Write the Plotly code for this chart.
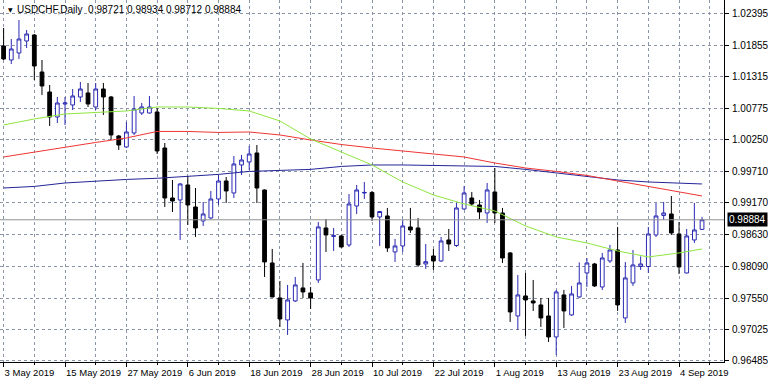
import plotly.graph_objects as go

# ---------------- data ----------------
date_labels = ["3 May 2019", "15 May 2019", "27 May 2019", "6 Jun 2019", "18 Jun 2019",
               "28 Jun 2019", "10 Jul 2019", "22 Jul 2019", "1 Aug 2019", "13 Aug 2019",
               "23 Aug 2019", "4 Sep 2019"]
label_bars = [0, 8, 16, 24, 32, 40, 48, 56, 64, 72, 80, 88]
grid_bars = [4, 12, 20, 28, 36, 44, 52, 60, 68, 76, 84, 92]

price_ticks = [1.02395, 1.01855, 1.01315, 1.00775, 1.00250, 0.99710,
               0.99170, 0.98630, 0.98090, 0.97550, 0.97025, 0.96485]

bars = list(range(92))

open_ = [1.01839, 1.01601, 1.01720, 1.01924, 1.02026, 1.01397, 1.01057, 1.00632, 1.00853, 1.00836,
         1.00972, 1.01040, 1.00802, 1.01108, 1.00972, 1.00309, 1.00122, 1.00360, 1.00700, 1.00700,
         1.00717, 1.00105, 0.99255, 0.99221, 0.99476, 0.99102, 0.98864, 0.98915, 0.99238, 0.99544,
         0.99340, 0.99816, 0.99867, 1.00020, 0.99391, 0.98150, 0.97555, 0.97181, 0.97504, 0.97725,
         0.97640, 0.97861, 0.98745, 0.98601, 0.98609, 0.98456, 0.99119, 0.99340, 0.99349, 0.98932,
         0.98949, 0.98337, 0.98439, 0.98762, 0.98745, 0.98133, 0.98269, 0.98184, 0.98541, 0.98447,
         0.99068, 0.99255, 0.99136, 0.99000, 0.99357, 0.99000, 0.98320, 0.97249, 0.97589, 0.97504,
         0.97436, 0.97249, 0.96892, 0.97606, 0.97266, 0.97572, 0.97980, 0.98133, 0.97742, 0.98184,
         0.98371, 0.97215, 0.97810, 0.98090, 0.98090, 0.98626, 0.98958, 0.98983, 0.98643, 0.97980,
         0.98541, 0.98721]
high = [1.02145, 1.01958, 1.02281, 1.02111, 1.02043, 1.01601, 1.01176, 1.00972, 1.00972, 1.01108,
        1.01227, 1.01210, 1.01210, 1.01210, 1.00989, 1.00326, 1.00547, 1.00989, 1.00870, 1.00989,
        1.00785, 1.00190, 0.99561, 0.99510, 0.99629, 0.99425, 0.99187, 0.99374, 0.99646, 0.99612,
        0.99969, 0.99986, 1.00139, 1.00156, 0.99400, 0.98388, 0.97844, 0.97776, 0.97912, 0.98150,
        0.97742, 0.98847, 0.98898, 0.98745, 0.98626, 0.99323, 0.99476, 0.99527, 0.99374, 0.99034,
        0.99085, 0.98558, 0.98881, 0.99085, 0.98915, 0.98473, 0.98388, 0.98592, 0.98728, 0.99170,
        0.99459, 0.99357, 0.99221, 0.99510, 0.99765, 0.99085, 0.98337, 0.97946, 0.97980, 0.97861,
        0.97555, 0.97555, 0.97691, 0.97691, 0.97759, 0.98160, 0.98235, 0.98150, 0.98320, 0.98456,
        0.98762, 0.98167, 0.98371, 0.98261, 0.98762, 0.99170, 0.99187, 0.99289, 0.98847, 0.98728,
        0.99170, 0.98934]
low = [1.01601, 1.01533, 1.01618, 1.01805, 1.01261, 1.01006, 1.00479, 1.00530, 1.00496, 1.00751,
       1.00887, 1.00802, 1.00751, 1.00666, 1.00241, 1.00071, 1.00105, 1.00326, 1.00666, 1.00692,
       1.00003, 0.99102, 0.99017, 0.98541, 0.98796, 0.98592, 0.98779, 0.98898, 0.99136, 0.99170,
       0.99255, 0.99646, 0.99731, 0.99170, 0.97912, 0.97565, 0.97062, 0.96926, 0.97487, 0.97555,
       0.97368, 0.97810, 0.98337, 0.98354, 0.98413, 0.98422, 0.98983, 0.99238, 0.98864, 0.98439,
       0.98337, 0.98167, 0.98337, 0.98660, 0.98082, 0.98048, 0.98031, 0.98167, 0.98354, 0.98422,
       0.99051, 0.99119, 0.98898, 0.98830, 0.98830, 0.98150, 0.97147, 0.97011, 0.96909, 0.97334,
       0.97062, 0.96807, 0.96586, 0.97045, 0.97249, 0.97555, 0.97742, 0.97742, 0.97691, 0.98150,
       0.97334, 0.97130, 0.97759, 0.98031, 0.97980, 0.98592, 0.98881, 0.98626, 0.97963, 0.97972,
       0.98490, 0.98712]
close = [1.01618, 1.01788, 1.01958, 1.02043, 1.01499, 1.01159, 1.00632, 1.00870, 1.00870, 1.00989,
         1.01108, 1.00853, 1.01108, 1.00972, 1.00326, 1.00156, 1.00377, 1.00768, 1.00802, 1.00802,
         1.00054, 0.99255, 0.99204, 0.99493, 0.99136, 0.98745, 0.98983, 0.99238, 0.99544, 0.99374,
         0.99833, 0.99901, 1.00003, 0.99425, 0.98167, 0.97572, 0.97198, 0.97521, 0.97776, 0.97657,
         0.97555, 0.98762, 0.98626, 0.98614, 0.98422, 0.99153, 0.99391, 0.99349, 0.98932, 0.99025,
         0.98405, 0.98439, 0.98779, 0.98711, 0.98116, 0.98172, 0.98184, 0.98524, 0.98473, 0.99085,
         0.99340, 0.99153, 0.99017, 0.99391, 0.99000, 0.98235, 0.97317, 0.97606, 0.97521, 0.97470,
         0.97215, 0.96892, 0.97657, 0.97334, 0.97623, 0.97810, 0.98150, 0.97759, 0.98235, 0.98371,
         0.97436, 0.97895, 0.98116, 0.98133, 0.98643, 0.98949, 0.99000, 0.98660, 0.98082, 0.98609,
         0.98711, 0.98884]

ma_bars = [0, 4, 8, 12, 16, 20, 24, 28, 32, 36, 40, 44, 48, 52, 56, 60, 64, 68, 72, 76, 80, 84, 88, 91]
ma_green = [1.00496, 1.00598, 1.00683, 1.00709, 1.00734, 1.00802, 1.00802, 1.00777, 1.00734, 1.00564,
            1.00258, 1.00037, 0.99816, 0.99527, 0.99306, 0.99153, 0.99034, 0.98779, 0.98592, 0.98490,
            0.98354, 0.98252, 0.98320, 0.98388]
ma_red = [0.99952, 1.00037, 1.00114, 1.00199, 1.00275, 1.00386, 1.00386, 1.00369, 1.00377, 1.00326,
          1.00241, 1.00164, 1.00105, 1.00054, 1.00011, 0.99952, 0.99850, 0.99765, 0.99706, 0.99638,
          0.99544, 0.99451, 0.99366, 0.99289]
ma_blue = [0.99425, 0.99451, 0.99510, 0.99544, 0.99570, 0.99590, 0.99617, 0.99656, 0.99706, 0.99724,
           0.99741, 0.99791, 0.99816, 0.99816, 0.99804, 0.99796, 0.99791, 0.99741, 0.99680, 0.99617,
           0.99561, 0.99527, 0.99510, 0.99493]

symbol_title = "USDCHF,Daily  0.98721 0.98934 0.98712 0.98884"
last_price = 0.98884

# ---------------- styles ----------------
UP = "#2a2ab4"
GRID = "#8a96a8"
FONT = "Liberation Sans"

fig = go.Figure()
fig.add_trace(go.Candlestick(
    x=bars, open=open_, high=high, low=low, close=close,
    increasing=dict(line=dict(color=UP, width=1), fillcolor="white"),
    decreasing=dict(line=dict(color="black", width=1), fillcolor="black"),
    whiskerwidth=0, hoverinfo="skip"))

for vals, col in [(ma_blue, "#24249a"), (ma_red, "#f03434"), (ma_green, "#8ee640")]:
    fig.add_trace(go.Scatter(x=ma_bars, y=vals, mode="lines",
                             line=dict(color=col, width=1), hoverinfo="skip"))

fig.add_shape(type="line", xref="paper", x0=0, x1=1, yref="y", y0=last_price, y1=last_price,
              line=dict(color="#909090", width=1), layer="above")

fig.add_annotation(xref="paper", yref="y", x=1, y=last_price, xanchor="left", yanchor="middle",
                   xshift=3, text=f"{last_price:.5f}", showarrow=False,
                   bgcolor="black", borderpad=1, font=dict(family=FONT, size=10, color="white"))

fig.add_annotation(xref="paper", yref="paper", x=0, y=1, xanchor="left", yanchor="top",
                   xshift=6, yshift=-4, text="▼", showarrow=False,
                   font=dict(family="DejaVu Sans", size=6, color="black"))
fig.add_annotation(xref="paper", yref="paper", x=0, y=1, xanchor="left", yanchor="top",
                   xshift=15, yshift=-2, text=symbol_title, showarrow=False,
                   font=dict(family=FONT, size=10, color="black"))

fig.update_layout(
    width=768, height=384, margin=dict(l=0, r=44, t=0, b=22, autoexpand=False),
    paper_bgcolor="white", plot_bgcolor="white", showlegend=False,
    font=dict(family=FONT, size=10, color="black"),
    xaxis=dict(range=[-0.47, 93.86], tickmode="array", tickvals=label_bars, ticktext=date_labels,
               tickangle=0, automargin=False, tickfont=dict(size=9.5),
               ticklabelstandoff=2,
               ticks="outside", ticklen=4, tickcolor="black", ticklabelposition="outside right",
               showgrid=True, gridcolor=GRID, griddash="3px,3px", gridwidth=1,
               minor=dict(tickmode="array", tickvals=grid_bars, showgrid=True, gridcolor=GRID,
                          griddash="3px,3px", ticks="outside", ticklen=2, tickcolor="black"),
               showline=True, linecolor="black", mirror=True, zeroline=False,
               rangeslider=dict(visible=False), fixedrange=True),
    yaxis=dict(side="right", range=[0.96466, 1.02621], tickmode="array", tickvals=price_ticks,
               ticktext=[f"{v:.5f}" for v in price_ticks], ticks="outside", ticklen=4,
               automargin=False, ticklabelstandoff=1,
               tickcolor="black", showgrid=True, gridcolor=GRID, griddash="3px,3px", gridwidth=1,
               showline=True, linecolor="black", mirror=True, zeroline=False, fixedrange=True),
)

fig.write_html("out.html")
